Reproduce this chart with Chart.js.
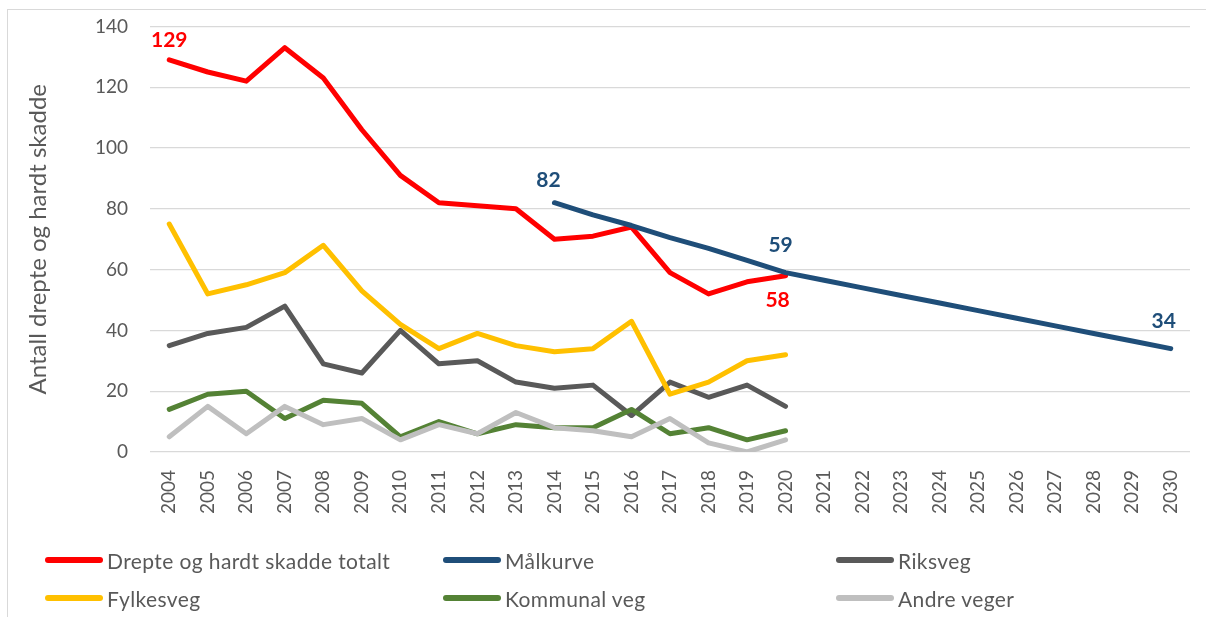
<!DOCTYPE html>
<html>
<head>
<meta charset="utf-8">
<script src="https://cdn.jsdelivr.net/npm/chart.js@4.4.1/dist/chart.umd.min.js"></script>
<style>
  html, body { margin: 0; padding: 0; background: #fff; }
  body { width: 1206px; height: 617px; overflow: hidden; position: relative; font-family: Lato, sans-serif; }
  .frame { position: absolute; left: 7px; top: 9px; width: 1230px; height: 650px; border: 1px solid #d9d9d9; box-sizing: border-box; }
  .chart-box { position: absolute; left: 0; top: -7px; width: 1206px; height: 527px; }
  .legend { position: absolute; left: 0; top: 0; width: 1206px; height: 617px; pointer-events: none; }
  .legend-item { position: absolute; display: flex; align-items: center; height: 24px; font-size: 21px; letter-spacing: 0.4px; color: #595959; white-space: nowrap; }
  .legend-item .swatch { width: 58px; height: 6px; border-radius: 3px; margin-right: 4px; }
</style>
</head>
<body>
<div class="frame"></div>
<div class="chart-box"><canvas id="chart"></canvas></div>
<div class="legend" id="legend"></div>
<script>
const years = ["2004", "2005", "2006", "2007", "2008", "2009", "2010", "2011", "2012", "2013", "2014",
  "2015", "2016", "2017", "2018", "2019", "2020", "2021", "2022", "2023", "2024", "2025", "2026",
  "2027", "2028", "2029", "2030"];

const totalt = [129, 125, 122, 133, 123, 106, 91, 82, 81, 80, 70, 71, 74, 59, 52, 56, 58];
const malkurve = [null, null, null, null, null, null, null, null, null, null,
  82, 78, 74.5, 70.5, 67, 63, 59, 56.5, 54, 51.5, 49, 46.5, 44, 41.5, 39, 36.5, 34];
const riksveg = [35, 39, 41, 48, 29, 26, 40, 29, 30, 23, 21, 22, 12, 23, 18, 22, 15];
const fylkesveg = [75, 52, 55, 59, 68, 53, 42, 34, 39, 35, 33, 34, 43, 19, 23, 30, 32];
const kommunalVeg = [14, 19, 20, 11, 17, 16, 5, 10, 6, 9, 8, 8, 14, 6, 8, 4, 7];
const andreVeger = [5, 15, 6, 15, 9, 11, 4, 9, 6, 13, 8, 7, 5, 11, 3, 0, 4];

const yTicks = [0, 20, 40, 60, 80, 100, 120, 140];

const SERIES = [
  { label: "Drepte og hardt skadde totalt", data: totalt, color: "#ff0000" },
  { label: "Målkurve", data: malkurve, color: "#1f4e79" },
  { label: "Riksveg", data: riksveg, color: "#595959" },
  { label: "Fylkesveg", data: fylkesveg, color: "#ffc000" },
  { label: "Kommunal veg", data: kommunalVeg, color: "#548235" },
  { label: "Andre veger", data: andreVeger, color: "#bfbfbf" }
];

// which points get a value label, and where the text sits relative to the point
const VALUE_LABELS = [
  { series: 0, index: 0, dx: 0, dy: -20 },
  { series: 1, index: 10, dx: -6, dy: -22 },
  { series: 1, index: 16, dx: -5, dy: -27 },
  { series: 0, index: 16, dx: -8, dy: 25 },
  { series: 1, index: 26, dx: -7, dy: -27 }
];

const LEGEND_POS = [
  { left: 45, top: 548 }, { left: 443, top: 548 }, { left: 836, top: 548 },
  { left: 45, top: 586 }, { left: 443, top: 586 }, { left: 836, top: 586 }
];

const valueLabelPlugin = {
  id: "valueLabels",
  afterDatasetsDraw(chart) {
    const ctx = chart.ctx;
    ctx.save();
    ctx.font = "bold 21px Lato, sans-serif";
    ctx.textAlign = "center";
    ctx.textBaseline = "middle";
    VALUE_LABELS.forEach(item => {
      const point = chart.getDatasetMeta(item.series).data[item.index];
      const value = chart.data.datasets[item.series].data[item.index];
      if (!point || value === null) return;
      ctx.fillStyle = SERIES[item.series].color;
      ctx.fillText(String(value), point.x + item.dx, point.y + item.dy);
    });
    ctx.restore();
  }
};

new Chart(document.getElementById("chart"), {
  type: "line",
  data: {
    labels: years,
    datasets: SERIES.map((s, i) => ({
      label: s.label,
      data: s.data,
      borderColor: s.color,
      backgroundColor: s.color,
      borderWidth: 5,
      borderCapStyle: "round",
      borderJoinStyle: "round",
      pointRadius: 0,
      tension: 0,
      order: SERIES.length - i
    }))
  },
  options: {
    responsive: true,
    maintainAspectRatio: false,
    animation: false,
    layout: { padding: { left: 20, top: 19, right: 16, bottom: 0 } },
    plugins: {
      legend: { display: false },
      tooltip: { enabled: false }
    },
    scales: {
      x: {
        offset: true,
        grid: { display: false },
        border: { display: false },
        ticks: {
          color: "#595959",
          font: { family: "Lato", size: 19 },
          minRotation: 90,
          maxRotation: 90,
          autoSkip: false,
          padding: 10
        },
        afterFit: scale => { scale.height = 68; }
      },
      y: {
        min: 0,
        max: 140,
        afterBuildTicks: scale => { scale.ticks = yTicks.map(v => ({ value: v })); },
        grid: { color: "#d9d9d9", lineWidth: 1.3, drawTicks: false },
        border: { display: false },
        ticks: {
          color: "#595959",
          font: { family: "Lato", size: 19 },
          padding: 22
        },
        title: {
          display: true,
          text: "Antall drepte og hardt skadde",
          color: "#595959",
          font: { family: "Lato", size: 24 },
          padding: { top: 4, bottom: 0 }
        },
        afterFit: scale => { scale.width = 130; }
      }
    }
  },
  plugins: [valueLabelPlugin]
});

const legend = document.getElementById("legend");
SERIES.forEach((s, i) => {
  const item = document.createElement("div");
  item.className = "legend-item";
  item.style.left = LEGEND_POS[i].left + "px";
  item.style.top = LEGEND_POS[i].top + "px";
  item.innerHTML = `<span class="swatch" style="background:${s.color}"></span><span>${s.label}</span>`;
  legend.appendChild(item);
});
</script>
</body>
</html>
